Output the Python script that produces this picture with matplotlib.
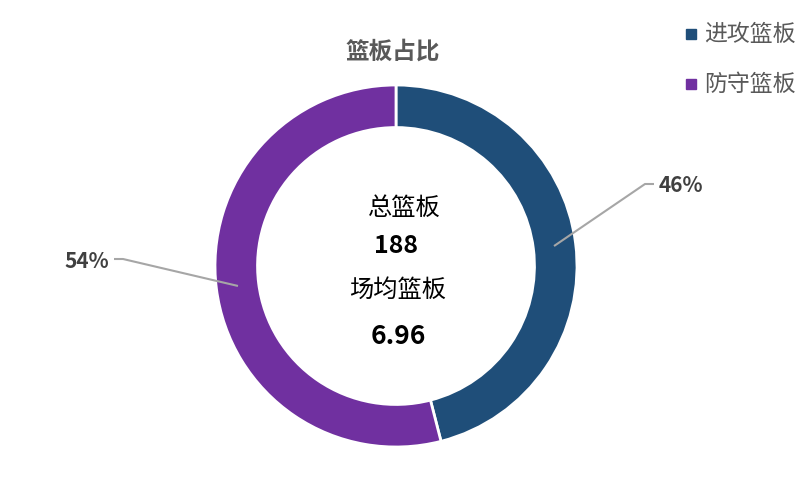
import numpy as np
import matplotlib
matplotlib.use("Agg")
import matplotlib.pyplot as plt

plt.rcParams['font.family'] = ['Noto Sans CJK SC', 'DejaVu Sans']

categories = ['进攻篮板', '防守篮板']
values = [46, 54]
colors = ['#1F4E79', '#7030A0']
title = '篮板占比'
total_label = '总篮板'
total_value = '188'
avg_label = '场均篮板'
avg_value = '6.96'

W, H = 810, 495
fig = plt.figure(figsize=(W / 100, H / 100), dpi=100)
ax = fig.add_axes([0, 0, 1, 1])
ax.set_xlim(0, W)
ax.set_ylim(0, H)
ax.axis('off')

cx, cy = 396, H - 266
R = 181
wedges, _ = ax.pie(values, colors=colors, startangle=90, counterclock=False,
                   radius=R, center=(cx, cy),
                   wedgeprops=dict(width=R * 0.235, edgecolor='white', linewidth=2))
ax.set_xlim(0, W)
ax.set_ylim(0, H)
ax.set_aspect('equal')

# percentage labels with leader lines
total = sum(values)
for w, v in zip(wedges, values):
    ang = np.deg2rad((w.theta1 + w.theta2) / 2)
    x0 = cx + 0.88 * R * np.cos(ang)
    y0 = cy + 0.88 * R * np.sin(ang)
    side = 1 if np.cos(ang) > 0 else -1
    if side > 0:
        ex, ey = 645, H - 184
        tx = ex + 9
    else:
        ex, ey = 123, H - 259
        tx = ex - 9
    ax.plot([x0, ex, tx], [y0, ey, ey], color='#A6A6A6', lw=1.5, solid_capstyle='butt')
    ax.text(tx + side * 5, ey - 2, f'{round(v / total * 100)}%', ha='left' if side > 0 else 'right',
            va='center', fontsize=15, fontweight='bold', color='#404040')

# title
ax.text(cx - 3, H - 52, title, ha='center', va='center', fontsize=17, fontweight='bold', color='#595959')

# center texts
ax.text(cx + 8, H - 208, total_label, ha='center', va='center', fontsize=17.5, color='#000000')
ax.text(cx, H - 246, total_value, ha='center', va='center', fontsize=18, fontweight='bold', color='#000000')
ax.text(cx + 2, H - 290, avg_label, ha='center', va='center', fontsize=17.5, color='#000000')
ax.text(cx + 2, H - 337, avg_value, ha='center', va='center', fontsize=19, fontweight='bold', color='#000000')

# legend
for i, (c, col) in enumerate(zip(categories, colors)):
    ly = H - (34 + i * 50)
    ax.add_patch(plt.Rectangle((686, ly - 5), 10, 10, color=col))
    ax.text(704, ly, c, ha='left', va='center', fontsize=16.5, color='#595959')

fig.savefig('out.png', dpi=100)
